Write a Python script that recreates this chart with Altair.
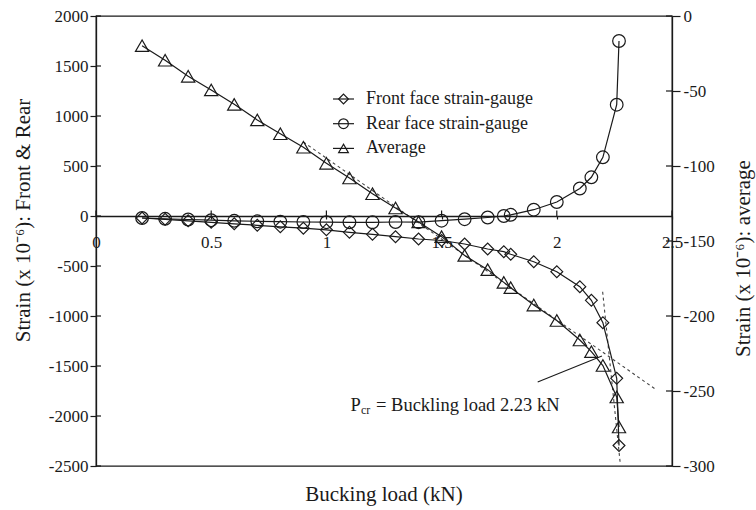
import altair as alt
import pandas as pd

# ---- data -------------------------------------------------------------
load = [0.2, 0.3, 0.4, 0.5, 0.6, 0.7, 0.8, 0.9, 1.0, 1.1, 1.2, 1.3, 1.4,
        1.5, 1.6, 1.7, 1.77, 1.8, 1.9, 2.0, 2.1, 2.15, 2.2, 2.26, 2.27]
front = [-20, -33, -48, -63, -78, -93, -108, -122, -138, -163, -183, -207,
         -230, -245, -280, -330, -357, -383, -457, -557, -707, -843, -1067,
         -1623, -2295]
rear = [-20, -28, -35, -42, -48, -53, -57, -60, -62, -63, -63, -60, -62,
        -47, -32, -15, 0, 12, 63, 140, 275, 387, 587, 1113, 1750]
average = [-19.8, -29.5, -40.2, -49.3, -58.9, -69.3, -78.5, -87.5, -98.2,
           -108.0, -118.5, -128.0, -137.3, -147.1, -159.6, -169.1, -177.6,
           -181.1, -192.7, -203.0, -216.0, -223.8, -233.0, -254.0, -274.0]

# tangent construction lines
tangent_avg_load = [0.90, 2.43]
tangent_avg_strain = [-84, -249]
tangent_steep_load = [2.199, 2.275]
tangent_steep_strain = [-757, -2467]
# leader from the annotation to the buckling point
leader_load = [1.917, 2.196]
leader_strain = [-1660, -1400]

x_ticks = [0, 0.5, 1, 1.5, 2, 2.5]
left_ticks = [-2500, -2000, -1500, -1000, -500, 0, 500, 1000, 1500, 2000]
right_ticks = [-300, -250, -200, -150, -100, -50, 0]

legend_labels = ["Front face strain-gauge", "Rear face strain-gauge", "Average"]
legend_shapes = ["diamond", "circle", "triangle-up"]

# ---- styling ----------------------------------------------------------
FONT = "Liberation Serif"
INK = "#1a1a1a"
W, H = 576, 450
num_label = "'' + datum.value"

x_scale = alt.Scale(domain=[0, 2.5], nice=False, zero=False)
left_scale = alt.Scale(domain=[-2500, 2000], nice=False)
right_scale = alt.Scale(domain=[-300, 0], nice=False)

common = dict(grid=False, labelFont=FONT, labelFontSize=17, labelColor=INK,
              domainColor=INK, tickColor=INK, domainWidth=1.3, tickWidth=1.2,
              titleFont=FONT, titleFontSize=21, titleFontWeight="normal",
              titleColor=INK, labelFlush=False)

x_axis = alt.Axis(values=x_ticks, labelExpr=num_label, offset=-250,
                  title=None, tickSize=3, labelPadding=15, **common)
left_axis = alt.Axis(values=left_ticks, labelExpr=num_label, orient="left",
                     title="Strain (x 10⁻⁶): Front & Rear", titleAngle=270,
                     titleX=-73, titleY=204, titleAlign="center",
                     titleBaseline="middle", tickSize=6, labelPadding=2,
                     **common)
right_axis = alt.Axis(values=right_ticks, labelExpr=num_label, orient="right",
                      title="Strain (x 10⁻⁶): average", titleAngle=270,
                      titleX=71, titleY=242, titleAlign="center",
                      titleBaseline="middle", tickSize=8, labelPadding=3,
                      **common)

df = pd.DataFrame({"load": load, "front": front, "rear": rear,
                   "average": average})

X = alt.X("load:Q", scale=x_scale, axis=x_axis)


def series(col, shape, size, scale, axis):
    base = alt.Chart(df).encode(
        x=X, y=alt.Y(f"{col}:Q", scale=scale, axis=axis), order="load:Q")
    line = base.mark_line(color=INK, strokeWidth=1.2)
    pts = base.mark_point(shape=shape, size=size, filled=False, color=INK,
                          strokeWidth=1.2, opacity=1)
    return line + pts


def dashed(xs, ys, scale, axis):
    d = pd.DataFrame({"load": xs, "strain": ys})
    return alt.Chart(d).mark_line(color="#444", strokeWidth=1.1,
                                  strokeDash=[3, 3]).encode(
        x=X, y=alt.Y("strain:Q", scale=scale, axis=axis))


front_layer = series("front", "diamond", 140, left_scale, left_axis)
rear_layer = series("rear", "circle", 160, left_scale, left_axis)
avg_layer = series("average", "triangle-up", 175, right_scale, right_axis)

steep = dashed(tangent_steep_load, tangent_steep_strain, left_scale, left_axis)
flat = dashed(tangent_avg_load, tangent_avg_strain, right_scale, right_axis)

leader = alt.Chart(pd.DataFrame({"load": leader_load,
                                 "strain": leader_strain})).mark_line(
    color=INK, strokeWidth=1.1).encode(
    x=X, y=alt.Y("strain:Q", scale=left_scale, axis=left_axis))

# small tick marks on the zero line and inside the two vertical axes
xt = pd.DataFrame({"t": x_ticks})
x_up_ticks = alt.Chart(xt).mark_rule(color=INK, strokeWidth=1.2).encode(
    x=alt.X("t:Q", scale=x_scale, axis=x_axis),
    y=alt.datum(0), y2=alt.datum(55))
lt = pd.DataFrame({"t": left_ticks})
left_in = alt.Chart(lt).mark_rule(color=INK, strokeWidth=1.2).encode(
    y=alt.Y("t:Q", scale=left_scale, axis=left_axis),
    x=alt.value(0), x2=alt.value(5))
rt = pd.DataFrame({"t": right_ticks})
right_in = alt.Chart(rt).mark_rule(color=INK, strokeWidth=1.2).encode(
    y=alt.Y("t:Q", scale=right_scale, axis=right_axis),
    x=alt.value(W - 6), x2=alt.value(W))

# legend block
legend_layers = []
LEG_X, LEG_Y, LEG_DY = 237, 83, 24.7
for i, (lab, shp) in enumerate(zip(legend_labels, legend_shapes)):
    ld = pd.DataFrame({"label": [lab]})
    yy = LEG_Y + i * LEG_DY
    legend_layers.append(alt.Chart(ld).mark_rule(color=INK, strokeWidth=1.2)
                         .encode(x=alt.value(LEG_X), x2=alt.value(LEG_X + 21),
                                 y=alt.value(yy)))
    legend_layers.append(alt.Chart(ld).mark_point(
        shape=shp, size=95, filled=False, color=INK, strokeWidth=1.2,
        opacity=1).encode(x=alt.value(LEG_X + 10.5), y=alt.value(yy)))
    legend_layers.append(alt.Chart(ld).mark_text(
        align="left", baseline="middle", font=FONT, fontSize=18, color=INK)
        .encode(x=alt.value(LEG_X + 33), y=alt.value(yy), text="label:N"))

# annotation text: P with subscript cr
ann = pd.DataFrame({"p": ["P"], "sub": ["cr"],
                    "rest": ["= Buckling load 2.23 kN"]})
ann_p = alt.Chart(ann).mark_text(align="left", baseline="alphabetic",
                                 font=FONT, fontSize=18.5, color=INK).encode(
    x=alt.value(254.5), y=alt.value(394.5), text="p:N")
ann_sub = alt.Chart(ann).mark_text(align="left", baseline="alphabetic",
                                   font=FONT, fontSize=12, color=INK).encode(
    x=alt.value(265), y=alt.value(398), text="sub:N")
ann_rest = alt.Chart(ann).mark_text(align="left", baseline="alphabetic",
                                    font=FONT, fontSize=18.5, color=INK).encode(
    x=alt.value(280), y=alt.value(394.5), text="rest:N")

left_group = alt.layer(x_up_ticks, left_in, steep, leader, front_layer,
                       rear_layer, *legend_layers, ann_p, ann_sub, ann_rest)
right_group = alt.layer(right_in, flat, avg_layer)

chart = (
    alt.layer(left_group, right_group)
    .resolve_scale(y="independent")
    .properties(
        width=W, height=H,
        padding={"left": 96, "top": 16, "right": 84, "bottom": 44},
        autosize=alt.AutoSizeParams(type="none"),
        background="white",
        title=alt.TitleParams("Bucking load (kN)", orient="bottom",
                              anchor="middle", font=FONT, fontSize=21,
                              fontWeight="normal", color=INK, offset=10),
    )
    .configure_view(stroke=INK, strokeWidth=1.3)
)

chart.save("out.html", embed_options={"renderer": "svg", "actions": False})
